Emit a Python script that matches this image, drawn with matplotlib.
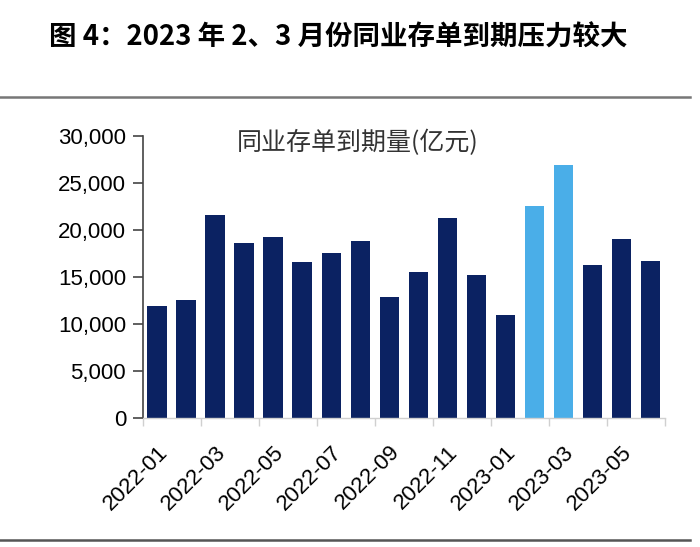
import matplotlib
matplotlib.use('Agg')
import matplotlib.pyplot as plt
from matplotlib.ticker import FuncFormatter, FixedLocator
from matplotlib.lines import Line2D

plt.rcParams['font.family'] = ['Liberation Sans', 'Noto Sans CJK SC', 'DejaVu Sans']

months = ['2022-01', '2022-02', '2022-03', '2022-04', '2022-05', '2022-06',
          '2022-07', '2022-08', '2022-09', '2022-10', '2022-11', '2022-12',
          '2023-01', '2023-02', '2023-03', '2023-04', '2023-05', '2023-06']
values = [11900, 12600, 21650, 18650, 19250, 16600, 17550, 18800, 12900,
          15500, 21300, 15200, 11000, 22550, 26900, 16300, 19100, 16750]
highlight = ['2023-02', '2023-03']

NAVY = '#0b2262'; LIGHT = '#4aaee8'

fig = plt.figure(figsize=(7, 5.47), dpi=100)
ax = fig.add_axes([0.204, 0.236, 0.746, 0.515])

x = list(range(len(months)))
cols = [LIGHT if m in highlight else NAVY for m in months]
ax.bar(x, values, width=0.68, color=cols)

ax.set_xlim(-0.5, len(months) - 0.5)
ax.set_ylim(0, 30000)
ax.set_yticks(range(0, 30001, 5000))
ax.yaxis.set_major_formatter(FuncFormatter(lambda v, p: f'{int(v):,}'))
ax.tick_params(axis='y', labelsize=16, length=7, width=1.2, color='#444', pad=5)

# labels every other month, tick marks between every two bars
ax.set_xticks(x[::2])
ax.set_xticklabels(months[::2], rotation=45, ha='right', rotation_mode='anchor', fontsize=16)
ax.tick_params(axis='x', length=0, pad=17)
ax.xaxis.set_minor_locator(FixedLocator([i - 0.5 for i in range(0, len(months) + 1, 2)]))
ax.tick_params(axis='x', which='minor', length=6, width=1, color='#d0d0d0')

for s in ['top', 'right']:
    ax.spines[s].set_visible(False)
ax.spines['left'].set_color('#444'); ax.spines['left'].set_linewidth(1.2)
ax.spines['bottom'].set_color('#d0d0d0'); ax.spines['bottom'].set_linewidth(1)

fig.text(358 / 700, 1 - 143 / 547, '同业存单到期量(亿元)', ha='center', va='center',
         fontsize=18, family=['Noto Sans CJK SC'], color='#333')

fig.text(49 / 700, 0.932, '图 4：2023 年 2、3 月份同业存单到期压力较大', ha='left', va='center',
         fontsize=19.8, fontweight='bold', family=['Noto Sans CJK SC', 'DejaVu Sans'])

fig.add_artist(Line2D([0.0, 0.985], [1 - 97 / 547] * 2, color='#777', lw=1.8))
fig.add_artist(Line2D([0.0, 0.985], [1 - 540 / 547] * 2, color='#555', lw=1.8))

plt.savefig('out.png', dpi=100)
plt.close()
